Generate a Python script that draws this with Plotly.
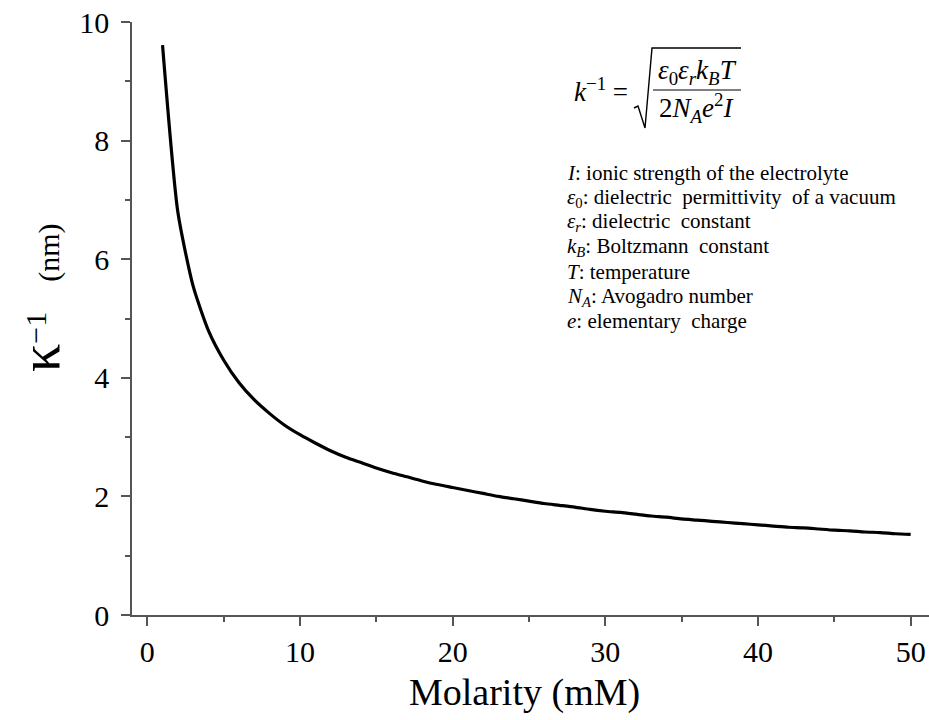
import plotly.graph_objects as go

# Data
molarity_mM = list(range(1, 51))
debye_nm = [9.61, 6.80, 5.55, 4.80, 4.30, 3.92, 3.63, 3.40, 3.20, 3.04,
            2.90, 2.77, 2.66, 2.57, 2.48, 2.40, 2.33, 2.26, 2.20, 2.15,
            2.10, 2.05, 2.00, 1.96, 1.92, 1.88, 1.85, 1.82, 1.78, 1.75,
            1.73, 1.70, 1.67, 1.65, 1.62, 1.60, 1.58, 1.56, 1.54, 1.52,
            1.50, 1.48, 1.47, 1.45, 1.43, 1.42, 1.40, 1.39, 1.37, 1.36]

x_ticks = [0, 10, 20, 30, 40, 50]
y_ticks = [0, 2, 4, 6, 8, 10]

legend_lines = [
    "<i>I</i>: ionic strength of the electrolyte",
    "<i>ε</i><sub>0</sub>: dielectric\u2002permittivity\u2002of a vacuum",
    "<i>ε</i><sub><i>r</i></sub>: dielectric\u2002constant",
    "<i>k</i><sub><i>B</i></sub>: Boltzmann\u2002constant",
    "<i>T</i>: temperature",
    "<i>N</i><sub><i>A</i></sub>: Avogadro number",
    "<i>e</i>: elementary\u2002charge",
]

FONT = "Liberation Serif"
AX = "#555555"

# plot area in pixels
L, R, T, B = 132, 929, 22, 615
W, H = 929, 720


def px(x):
    return (x - L) / (R - L)


def py(y):
    return (B - y) / (B - T)


fig = go.Figure()
fig.add_trace(go.Scatter(x=molarity_mM, y=debye_nm, mode="lines",
                         line=dict(color="black", width=3.2, shape="spline", smoothing=0.6),
                         showlegend=False))

fig.update_layout(
    width=W, height=H,
    margin=dict(l=L, r=W - R, t=T, b=H - B),
    paper_bgcolor="white", plot_bgcolor="white",
    font=dict(family=FONT, color="black"),
    xaxis=dict(range=[-1, 51.2], tickvals=x_ticks, showline=True, linecolor=AX,
               linewidth=1.5, ticks="outside", ticklen=9, tickwidth=1.5,
               tickcolor=AX, showgrid=False, zeroline=False,
               tickfont=dict(size=30, family=FONT),
               minor=dict(dtick=5, ticks="outside", ticklen=5, tickcolor=AX, tickwidth=1.5)),
    yaxis=dict(range=[0, 10], tickvals=y_ticks, showline=True, linecolor=AX,
               linewidth=1.5, ticks="outside", ticklen=9, tickwidth=1.5,
               tickcolor=AX, showgrid=False, zeroline=False,
               tickfont=dict(size=30, family=FONT), ticklabelstandoff=6,
               minor=dict(dtick=1, ticks="outside", ticklen=5, tickcolor=AX, tickwidth=1.5)),
)

ann = []
# axis titles
ann.append(dict(x=px(524), y=py(692), xref="paper", yref="paper",
                text="Molarity (mM)", showarrow=False, xanchor="center", yanchor="middle",
                font=dict(size=38, family=FONT)))
ann.append(dict(x=px(40), y=py(298), xref="paper", yref="paper", textangle=-90,
                text="<span style='font-size:56px'>κ</span><sup><span style='font-size:30px'>−1</span></sup>\u2003<span style='font-size:30px'>(nm)</span>",
                showarrow=False, xanchor="center", yanchor="middle",
                font=dict(size=30, family=FONT)))

# equation
ann.append(dict(x=px(630), y=py(90), xref="paper", yref="paper",
                text="<i>k</i><sup>−1</sup> =", showarrow=False,
                xanchor="right", yanchor="middle", font=dict(size=27, family=FONT)))
ann.append(dict(x=px(697), y=py(72), xref="paper", yref="paper",
                text="<i>ε</i><sub>0</sub><i>ε</i><sub><i>r</i></sub><i>k</i><sub><i>B</i></sub><i>T</i>",
                showarrow=False, xanchor="center", yanchor="middle", font=dict(size=27, family=FONT)))
ann.append(dict(x=px(697), y=py(108), xref="paper", yref="paper",
                text="2<i>N</i><sub><i>A</i></sub><i>e</i><sup>2</sup><i>I</i>",
                showarrow=False, xanchor="center", yanchor="middle", font=dict(size=27, family=FONT)))

# legend text lines
y0, dy = 173, 24.7
for i, t in enumerate(legend_lines):
    ann.append(dict(x=px(565), y=py(y0 + i * dy), xref="paper", yref="paper",
                    text=t, showarrow=False, xanchor="left", yanchor="middle",
                    font=dict(size=21, family=FONT)))

fig.update_layout(annotations=ann)

# sqrt sign and fraction bar
sq = (f"M {px(634)},{py(108)} L {px(638)},{py(106)} L {px(645)},{py(128)} "
      f"L {px(652)},{py(48)} L {px(741)},{py(48)}")
fig.add_shape(type="path", path=sq, xref="paper", yref="paper",
              line=dict(color="black", width=1.4))
fig.add_shape(type="line", x0=px(653), x1=px(741), y0=py(90), y1=py(90),
              xref="paper", yref="paper", line=dict(color="black", width=1.2))

fig.write_html("out.html")
